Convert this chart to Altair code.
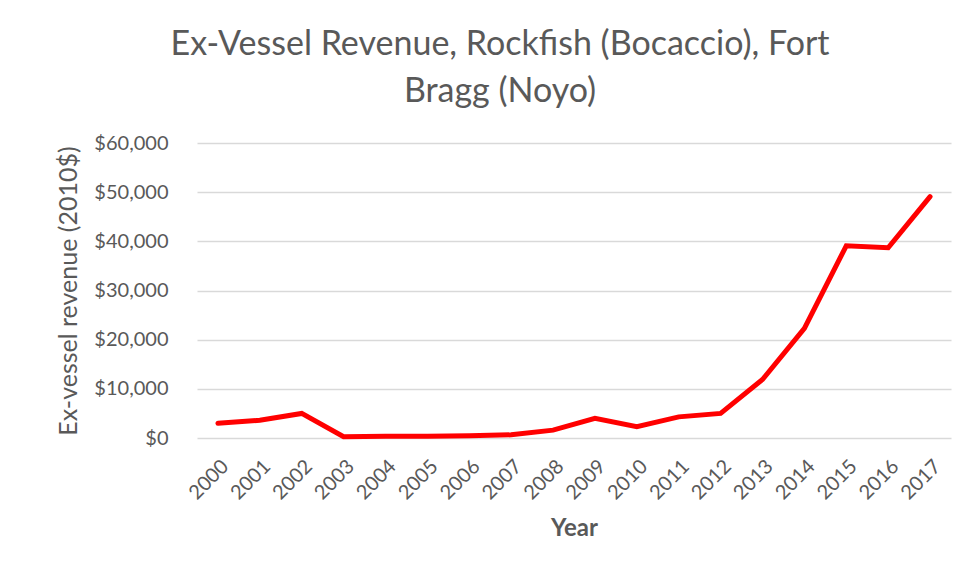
import altair as alt
import pandas as pd

years = [str(y) for y in range(2000, 2018)]
revenue = [3000, 3600, 5000, 250, 350, 350, 450, 650, 1600, 4000, 2300, 4300, 5000,
           11900, 22300, 39100, 38700, 49100]

df = pd.DataFrame({"Year": years, "Revenue": revenue})

FONT = "Lato"
TXT = "#595959"

line = alt.Chart(df).mark_line(color="#FF0000", strokeWidth=5, strokeCap="round", strokeJoin="miter").encode(
    x=alt.X("Year:O", sort=years,
            scale=alt.Scale(type="point", padding=0.5),
            axis=alt.Axis(title="Year", labelAngle=-45, labelFontSize=20, labelColor=TXT,
                          labelFont=FONT, labelPadding=18, ticks=False, domain=False, grid=False,
                          titleFont=FONT, titleFontSize=24, titleFontWeight="bold",
                          titleColor=TXT, titlePadding=14)),
    y=alt.Y("Revenue:Q",
            scale=alt.Scale(domain=[0, 60000], nice=False),
            axis=alt.Axis(title="Ex-vessel revenue (2010$)", values=[0, 10000, 20000, 30000, 40000, 50000, 60000],
                          format="$,.0f", labelFontSize=20, labelColor=TXT, labelFont=FONT,
                          labelPadding=29, ticks=False, domain=False, grid=True,
                          gridColor="#D9D9D9", gridWidth=1.3,
                          titleFont=FONT, titleFontSize=25, titleFontWeight="normal",
                          titleColor=TXT, titlePadding=12)),
)

chart = line.properties(
    width=754,
    height=295,
    autosize=alt.AutoSizeParams(type="none"),
    padding={"left": 189, "top": 135, "right": 17, "bottom": 132},
    background="white",
    title=alt.TitleParams(
        text=["Ex-Vessel Revenue, Rockfish (Bocaccio), Fort", "Bragg (Noyo)"],
        font=FONT, fontSize=34, fontWeight="normal", color=TXT,
        anchor="middle", dx=-74, lineHeight=47, offset=24,
    ),
).configure_view(stroke=None)

chart.save("out.html", embed_options={"renderer": "svg", "actions": False})
